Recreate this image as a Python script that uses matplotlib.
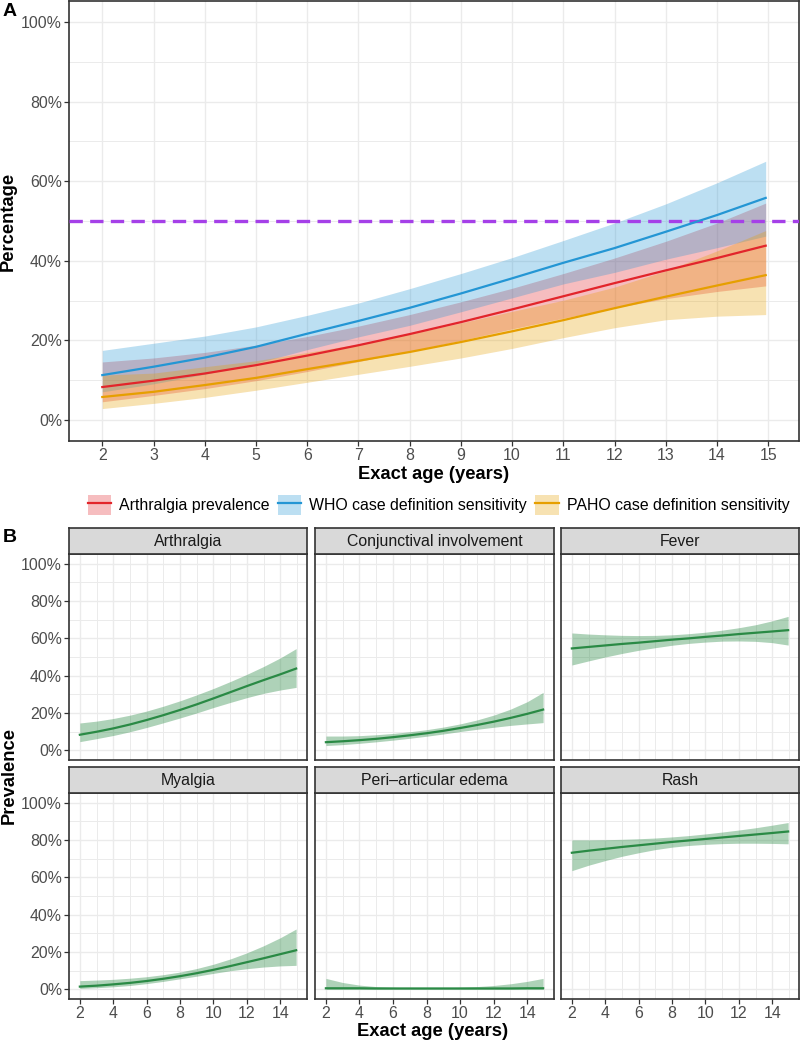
import matplotlib
matplotlib.use('Agg')
import matplotlib.pyplot as plt
import numpy as np
from matplotlib.patches import Patch
from matplotlib.lines import Line2D
from matplotlib.ticker import FuncFormatter, MultipleLocator

plt.rcParams['font.family'] = ['Liberation Sans', 'DejaVu Sans']

# ---- data (percent) ----
ages = [2, 3, 4, 5, 6, 7, 8, 9, 10, 11, 12, 13, 14, 14.95]

# panel A
arth_fit = [8.3, 9.9, 11.7, 13.8, 16.2, 18.8, 21.6, 24.6, 27.8, 31.1, 34.4, 37.6, 40.7, 43.8]
arth_lo = [4.6, 6.2, 7.9, 9.9, 12.2, 14.7, 17.3, 20.0, 22.9, 25.6, 28.2, 30.5, 32.3, 33.7]
arth_hi = [14.6, 15.6, 17.0, 18.8, 21.0, 23.6, 26.5, 29.7, 33.1, 36.8, 40.7, 44.9, 49.5, 54.5]

who_fit = [11.3, 13.4, 15.7, 18.4, 21.7, 24.9, 28.2, 31.8, 35.6, 39.5, 43.2, 47.3, 51.5, 55.8]
who_lo = [7.1, 9.1, 11.5, 14.3, 17.7, 20.9, 23.8, 27.2, 30.7, 34.2, 37.1, 40.4, 43.3, 46.2]
who_hi = [17.5, 19.3, 21.1, 23.4, 26.3, 29.4, 33.0, 36.8, 40.8, 45.1, 49.5, 54.3, 59.6, 65.0]

paho_fit = [5.8, 7.1, 8.8, 10.6, 12.8, 14.9, 17.1, 19.6, 22.3, 25.1, 28.1, 31.0, 33.8, 36.4]
paho_lo = [2.9, 4.2, 5.7, 7.5, 9.5, 11.5, 13.5, 15.6, 18.0, 20.7, 23.2, 25.2, 26.1, 26.5]
paho_hi = [11.3, 11.8, 13.4, 14.9, 17.0, 19.1, 21.6, 24.4, 27.3, 30.1, 33.4, 37.5, 42.5, 47.6]

threshold = 50

series_labels = ['Arthralgia prevalence', 'WHO case definition sensitivity',
                 'PAHO case definition sensitivity']

# panel B
conj_fit = [4.3, 4.8, 5.4, 6.1, 7.0, 8.0, 9.1, 10.4, 11.9, 13.5, 15.3, 17.3, 19.5, 21.8]
conj_lo = [2.5, 3.0, 3.7, 4.5, 5.4, 6.4, 7.5, 8.7, 10.0, 11.2, 12.3, 13.3, 14.1, 14.8]
conj_hi = [7.6, 7.6, 7.8, 8.3, 9.0, 9.9, 11.0, 12.4, 14.1, 16.2, 18.8, 22.0, 26.0, 31.0]

fever_fit = [54.6, 55.4, 56.2, 57.0, 57.7, 58.5, 59.3, 60.0, 60.8, 61.5, 62.3, 63.0, 63.7, 64.4]
fever_lo = [45.7, 47.9, 50.0, 51.9, 53.6, 55.0, 56.3, 57.3, 58.0, 58.5, 58.6, 58.4, 57.7, 56.4]
fever_hi = [62.9, 62.3, 61.9, 61.6, 61.5, 61.6, 61.9, 62.5, 63.3, 64.4, 65.7, 67.3, 69.4, 71.8]

myal_fit = [1.4, 1.9, 2.6, 3.4, 4.4, 5.6, 7.0, 8.6, 10.4, 12.4, 14.5, 16.6, 18.8, 20.9]
myal_lo = [0.4, 0.8, 1.3, 2.0, 3.0, 4.2, 5.6, 7.0, 8.5, 9.9, 11.0, 11.9, 12.5, 12.8]
myal_hi = [4.6, 4.9, 5.3, 5.9, 6.7, 7.8, 9.2, 11.1, 13.4, 16.2, 19.5, 23.3, 27.6, 32.3]

edema_fit = [0.5, 0.5, 0.5, 0.4, 0.4, 0.4, 0.4, 0.4, 0.4, 0.4, 0.4, 0.4, 0.5, 0.5]
edema_lo = [0.0, 0.0, 0.0, 0.0, 0.0, 0.0, 0.0, 0.0, 0.0, 0.0, 0.0, 0.0, 0.0, 0.0]
edema_hi = [5.8, 3.6, 2.2, 1.4, 1.0, 0.8, 0.7, 0.8, 1.0, 1.4, 2.0, 2.9, 4.2, 5.8]

rash_fit = [73.2, 74.3, 75.3, 76.3, 77.2, 78.1, 79.0, 79.8, 80.6, 81.4, 82.2, 83.0, 83.8, 84.6]
rash_lo = [63.6, 66.5, 69.0, 71.3, 73.2, 74.9, 76.2, 77.1, 77.7, 78.1, 78.3, 78.3, 78.2, 78.0]
rash_hi = [80.1, 80.1, 80.2, 80.4, 80.7, 81.1, 81.7, 82.4, 83.3, 84.3, 85.4, 86.6, 88.0, 89.4]

symptoms = ['Arthralgia', 'Conjunctival involvement', 'Fever',
            'Myalgia', 'Peri\u2013articular edema', 'Rash']
symptom_fit = [arth_fit, conj_fit, fever_fit, myal_fit, edema_fit, rash_fit]
symptom_lo = [arth_lo, conj_lo, fever_lo, myal_lo, edema_lo, rash_lo]
symptom_hi = [arth_hi, conj_hi, fever_hi, myal_hi, edema_hi, rash_hi]

# ---- styling ----
RED, BLUE, ORANGE = '#E2252B', '#2496D4', '#E69F00'
GREEN = '#2A8A45'
PURPLE = '#A540E8'
GRID = '#EBEBEB'
BORDER = '#333333'
TICKC = '#4D4D4D'
FS = 11.4
TFS = 13.2

W, H = 800, 1042


def box(l, t, r, b):
    # pixel box -> figure fraction
    return [l / W, 1 - b / H, (r - l) / W, (b - t) / H]


pct = FuncFormatter(lambda v, p: f'{v:.0f}%')


def style_axes(ax):
    for s in ax.spines.values():
        s.set_color(BORDER)
        s.set_linewidth(1.2)
    ax.tick_params(which='major', length=3.5, width=0.9, color=BORDER,
                   labelcolor=TICKC, labelsize=FS, pad=1.5)
    ax.tick_params(which='minor', length=0)
    ax.set_axisbelow(True)
    ax.grid(which='major', color=GRID, lw=1.0)
    ax.grid(which='minor', color=GRID, lw=0.7)


fig = plt.figure(figsize=(W / 100, H / 100), dpi=100)

# ---- panel A ----
axA = fig.add_axes(box(69, 1, 799, 441))
style_axes(axA)
colors = [RED, BLUE, ORANGE]
fits = [arth_fit, who_fit, paho_fit]
los = [arth_lo, who_lo, paho_lo]
his = [arth_hi, who_hi, paho_hi]
for lo, hi, c in zip(los, his, colors):
    axA.fill_between(ages, lo, hi, color=c, alpha=0.3, lw=0)
axA.axhline(threshold, color=PURPLE, lw=2.4, dashes=(4, 2.2), zorder=3)
for f, c in zip(fits, colors):
    axA.plot(ages, f, color=c, lw=1.6, zorder=4)
axA.set_xlim(1.35, 15.6)
axA.set_ylim(-5.25, 105.25)
axA.set_xticks(range(2, 16))
axA.yaxis.set_major_locator(MultipleLocator(20))
axA.yaxis.set_minor_locator(MultipleLocator(10))
axA.yaxis.set_major_formatter(pct)
axA.set_xlabel('Exact age (years)', fontsize=TFS, fontweight='bold', labelpad=2)
axA.set_ylabel('Percentage', fontsize=TFS, fontweight='bold', labelpad=3)

handles = [(Patch(facecolor=c, alpha=0.3, edgecolor='none'),
            Line2D([0], [0], color=c, lw=1.6)) for c in colors]
fig.legend(handles, series_labels, loc='center', bbox_to_anchor=(438.5 / W, 1 - 505 / H),
           ncol=3, frameon=False, fontsize=FS, handlelength=1.5, handleheight=1.5,
           handletextpad=0.5, columnspacing=0.5, borderpad=0)

# ---- panel B ----
cols = [(69, 307), (315, 554), (561, 799)]
rows = [(528, 554, 760), (767, 793, 999)]
for i, name in enumerate(symptoms):
    r, c = divmod(i, 3)
    l, rt = cols[c]
    st, pt, pb = rows[r]
    ax = fig.add_axes(box(l, pt, rt, pb))
    style_axes(ax)
    ax.fill_between(ages, symptom_lo[i], symptom_hi[i], color=GREEN, alpha=0.38, lw=0)
    ax.plot(ages, symptom_fit[i], color=GREEN, lw=1.6)
    ax.set_xlim(1.35, 15.6)
    ax.set_ylim(-5.25, 105.25)
    ax.xaxis.set_major_locator(MultipleLocator(2))
    ax.xaxis.set_minor_locator(MultipleLocator(1))
    ax.yaxis.set_major_locator(MultipleLocator(20))
    ax.yaxis.set_minor_locator(MultipleLocator(10))
    ax.yaxis.set_major_formatter(pct)
    if c != 0:
        ax.tick_params(axis='y', which='both', left=False, labelleft=False)
    if r == 0:
        ax.tick_params(axis='x', which='both', bottom=False, labelbottom=False)

    # facet strip
    sax = fig.add_axes(box(l, st, rt, pt))
    sax.set_facecolor('#D9D9D9')
    for s in sax.spines.values():
        s.set_color(BORDER)
        s.set_linewidth(1.2)
    sax.set_xticks([])
    sax.set_yticks([])
    sax.text(0.5, 0.48, name, ha='center', va='center', fontsize=FS, color='#1A1A1A',
             transform=sax.transAxes)

fig.text(9 / W, 1 - 776 / H, 'Prevalence', rotation=90, ha='center', va='center',
         fontsize=TFS, fontweight='bold')
fig.text(433 / W, 1 - 1031 / H, 'Exact age (years)', ha='center', va='center',
         fontsize=TFS, fontweight='bold')

# panel tags
fig.text(3 / W, 1 - 11 / H, 'A', ha='left', va='center', fontsize=14, fontweight='bold')
fig.text(3 / W, 1 - 537 / H, 'B', ha='left', va='center', fontsize=14, fontweight='bold')

fig.savefig('out.png', dpi=100)
